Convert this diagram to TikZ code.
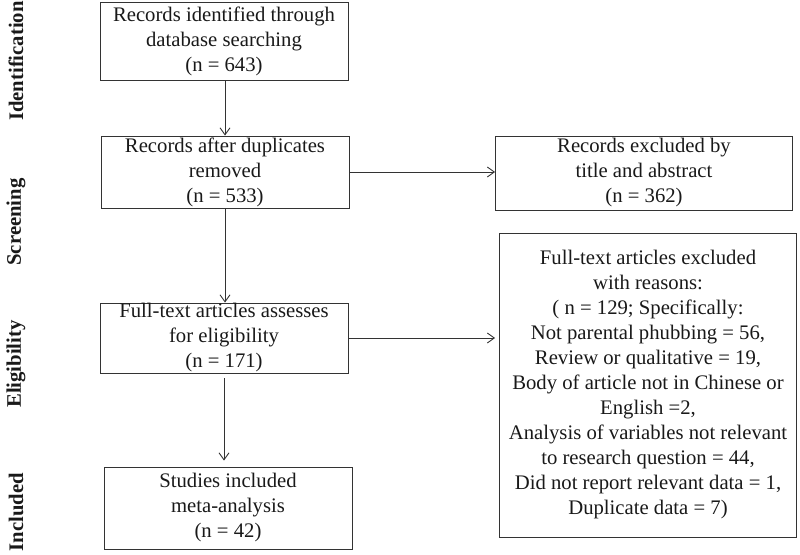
\documentclass[tikz,border=0pt]{standalone}
\usepackage{fontspec}
\setmainfont{Liberation Serif}
\usetikzlibrary{positioning,arrows.meta}
\tikzset{
  box/.style={draw=black!80,line width=0.9pt,align=center,inner sep=0pt,text=black!90},
  stage/.style={rotate=90,font=\fontsize{20.7}{25}\selectfont\bfseries,text=black!90},
  flow/.style={-{Straight Barb[length=7pt,width=10pt]},draw=black!80,line width=0.9pt}
}
\begin{document}
\begin{tikzpicture}[x=1pt,y=-1pt,font=\fontsize{20.7}{25}\selectfont]
\useasboundingbox (0,0) rectangle (800,554);
\node[stage,name=sid] at (16,61){Identification};
\node[stage,name=sscr] at (16,222){Screening};
\node[stage,name=selg] at (16,364){Eligibility};
\node[stage,name=sinc] at (16,512){Included};
\node[box,name=ident,minimum width=248,minimum height=78] at (224,41){Records identified through\\database searching\\(n = 643)};
\node[box,name=dedup,minimum width=248,minimum height=72] at (225,172){Records after duplicates\\removed\\(n = 533)};
\node[box,name=excla,minimum width=297,minimum height=74] at (644,173){Records excluded by\\title and abstract\\(n = 362)};
\node[box,name=fullt,minimum width=248,minimum height=70] at (224,338){Full-text articles assesses\\for eligibility\\(n = 171)};
\node[box,name=exclb,minimum width=297,minimum height=304] at (648,385){Full-text articles excluded\\with reasons:\\( n = 129; Specifically:\\Not parental phubbing = 56,\\Review or qualitative = 19,\\Body of article not in Chinese or\\English =2,\\Analysis of variables not relevant\\to research question = 44,\\Did not report relevant data = 1,\\Duplicate data = 7)};
\node[box,name=incl,minimum width=248,minimum height=82] at (228,508){Studies included\\meta-analysis\\(n = 42)};
\draw[flow] (ident.south -| dedup.north)--(dedup.north);
\draw[flow] (dedup.east)--(dedup.east -| excla.west);
\draw[flow] (dedup.south)--(dedup.south |- fullt.north);
\draw[flow,shorten >= 4pt] (fullt.east)--(fullt.east -| exclb.west);
\draw[flow,shorten <= 5pt,shorten >= 6pt] (fullt.south)--(fullt.south |- incl.north);
\end{tikzpicture}
\end{document}
